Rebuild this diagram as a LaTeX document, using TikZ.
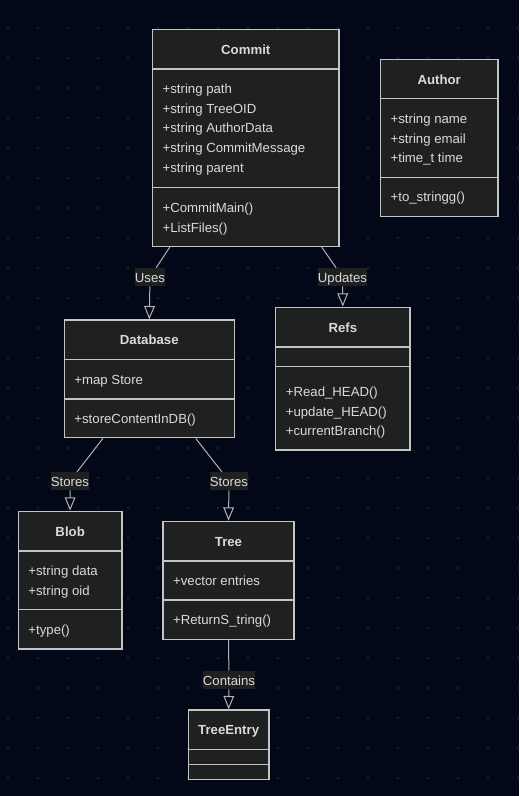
\documentclass[tikz,border=0pt]{standalone}
\usepackage{fontspec}
\setmainfont{Liberation Sans}
\usetikzlibrary{arrows.meta,fit}

\definecolor{bgcol}{HTML}{020817}
\definecolor{dotcol}{HTML}{1C212E}
\definecolor{boxfill}{HTML}{1F2020}
\definecolor{boxline}{HTML}{C4C4C4}
\definecolor{linecol}{HTML}{B4B4B4}
\definecolor{textcol}{HTML}{DADADA}

\begin{document}
\begin{tikzpicture}[x=0.75pt,y=-0.75pt,
                    class box/.style={draw=boxline,fill=boxfill,line width=1pt,inner sep=0pt},
                    divider/.style={draw=boxline,line width=1pt},
                    class title/.style={anchor=base,inner sep=0pt,text=textcol,font=\fontsize{9.9}{11}\selectfont\bfseries},
                    member/.style={anchor=base west,inner sep=0pt,text=textcol,font=\fontsize{9.9}{11}\selectfont},
                    edge label/.style={fill=boxfill,inner xsep=0.1pt,inner ysep=0pt,minimum height=13.5pt,
                                       text height=9.5pt,text depth=2pt,text=textcol,font=\fontsize{9.9}{11}\selectfont},
                    relation/.style={draw=linecol,line width=0.75pt}]

  % Background
  \fill[bgcol] (0,0) rectangle (519,796);
  \foreach \i in {0,...,17}
    \foreach \j in {0,...,25}
      \fill[dotcol] (8+30*\i,28+30*\j) circle (1.1pt);

  % Classes
  \foreach \name/\xa/\ya/\xb/\yb in {commit/152.5/29.5/339/246.5, author/380.5/59.3/498/216.7,
                                      database/64.3/320/234.3/437.7, refs/275.7/307.3/410/450,
                                      blob/18.3/511.3/122/649, tree/163/521.3/294/639.3,
                                      treeentry/188.3/710/269/779.3}
    \node[class box,fit={(\xa,\ya) (\xb,\yb)}] (\name) {};

  \foreach \name/\y in {commit/69, commit/187.5, author/98.7, author/177.3,
                        database/359.3, database/399, refs/347, refs/366.7,
                        blob/551, blob/609.7, tree/561, tree/600,
                        treeentry/749.3, treeentry/764.3}
    \draw[divider] (\name.west |- 0,\y) -- (\name.east |- 0,\y);

  \foreach \name/\title in {commit/Commit, author/Author, database/Database, refs/Refs,
                            blob/Blob, tree/Tree, treeentry/TreeEntry}
    \node[class title] at ([yshift=-19.2pt]\name.north) {\title};

  % Members
  \foreach \name/\y/\text in {commit/93.5/+string path, commit/113.2/+string TreeOID,
                              commit/132.9/+string AuthorData, commit/152.6/+string CommitMessage,
                              commit/172.3/+string parent, commit/212.5/+CommitMain(),
                              commit/232.2/+ListFiles(),
                              author/123.3/+string name, author/143/+string email,
                              author/162.7/+time\_t time, author/201.7/+to\_stringg(),
                              database/384/+map Store, database/423.5/+storeContentInDB(),
                              refs/396.5/+Read\_HEAD(), refs/416.2/+update\_HEAD(),
                              refs/435.9/+currentBranch(),
                              blob/575.5/+string data, blob/595.2/+string oid, blob/634.5/+type(),
                              tree/585/+vector entries, tree/624.7/+ReturnS\_tring()}
    \node[member,xshift=7.9pt] at (\name.west |- 0,\y) {\text};

  % Edge labels
  \foreach \name/\pos/\text in {uses/{(150,277)}/Uses, updates/{(342.5,277)}/Updates,
                                storesblob/{(70,481)}/Stores, storestree/{(229,481)}/Stores,
                                contains/{(229,680)}/Contains}
    \node[edge label] (\name) at \pos {\text};

  % Relations
  \foreach \source/\dx/\label/\target in {commit/-57/uses/database, commit/57/updates/refs,
                                          database/-34.8/storesblob/blob, database/34.8/storestree/tree,
                                          tree/0/contains/treeentry}
  {
    \draw[relation] ([xshift=\dx pt]\source.south) -- (\label);
    \draw[relation,-{Triangle[open,width=8pt,length=10pt]}] (\label) -- (\target.north);
  }
\end{tikzpicture}
\end{document}
